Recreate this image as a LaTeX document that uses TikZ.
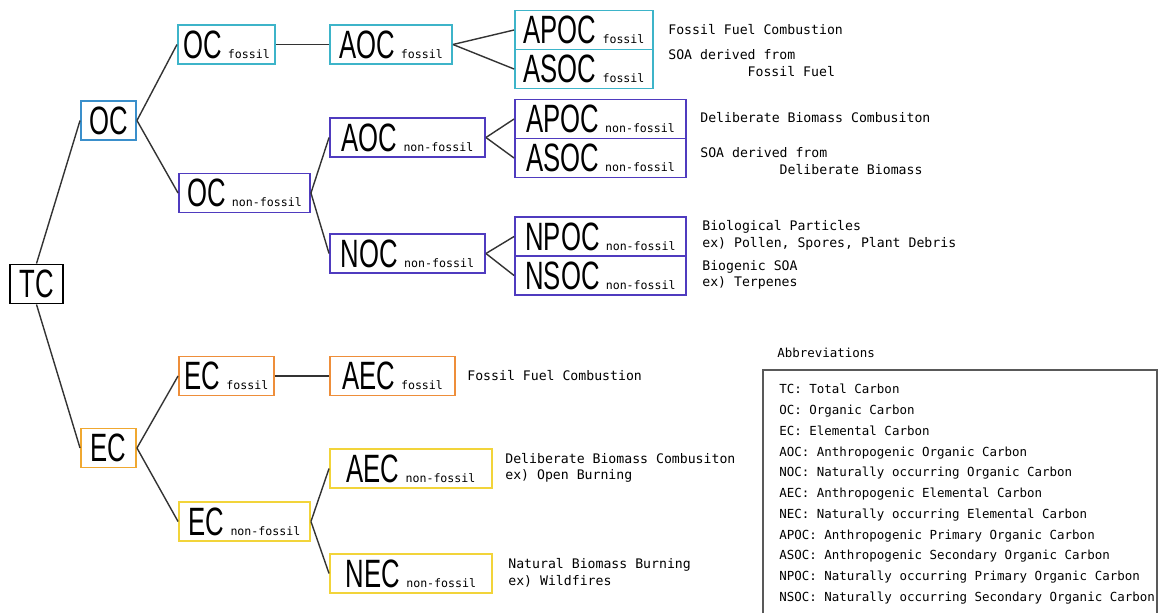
\documentclass[tikz,border=0pt]{standalone}
\usepackage{fontspec}
\setmainfont{Liberation Sans}
\newfontfamily\labfont[FakeStretch=0.65]{Liberation Sans}
\newfontfamily\monofont{DejaVu Sans Mono}
\usetikzlibrary{positioning}
\definecolor{ocblue}{HTML}{3A8FCB}
\definecolor{fosscyan}{HTML}{3DB4C9}
\definecolor{nfpurple}{HTML}{4F3BBF}
\definecolor{ecorange}{HTML}{F0A830}
\definecolor{fossorange}{HTML}{EE8E3A}
\definecolor{nfyellow}{HTML}{F2D43A}
\newcommand{\biglab}[1]{{\labfont\fontsize{22.5}{22.5}\selectfont #1}}
\newcommand{\lab}[2]{\biglab{#1}\hspace{3.5pt}{\monofont\fontsize{6.6}{7}\selectfont #2}}

\begin{document}
\begin{tikzpicture}[x=0.02cm,y=-0.02cm,
  cbox/.style={draw=#1, line width=1.1pt, fill=white, inner xsep=3pt, inner ysep=2pt,
    text height=15.5pt, text depth=0pt, minimum height=0.78cm},
  link/.style={draw=black!80, line width=0.8pt},
  desc/.style={font=\monofont\fontsize{7.5}{9.5}\selectfont, align=left, anchor=west, inner sep=0pt}]
  \useasboundingbox (0,0) rectangle (1159,613);
  % tree boxes
  \node[cbox=black, minimum width=1.06cm] (tc) at (36.5,284) {\biglab{TC}};
  \node[cbox=ocblue, minimum width=1.1cm] (oc) at (108.5,120.5) {\biglab{OC}};
  \node[cbox=ecorange, minimum width=1.1cm] (ec) at (108.5,448) {\biglab{EC}};
  \node[cbox=fosscyan, minimum width=1.9cm] (ocf) at (226.5,44.5) {\lab{OC}{fossil}};
  \node[cbox=nfpurple, minimum width=2.62cm] (ocn) at (244.5,193) {\lab{OC}{non-fossil}};
  \node[cbox=fosscyan, minimum width=2.44cm] (aocf) at (391,44.5) {\lab{AOC}{fossil}};
  \node[cbox=nfpurple, minimum width=3.1cm] (aocn) at (407.5,137.5) {\lab{AOC}{non-fossil}};
  \node[cbox=nfpurple, minimum width=3.1cm] (nocn) at (407.5,253.5) {\lab{NOC}{non-fossil}};
  \node[cbox=fosscyan, minimum width=2.76cm] (apocf) at (584,30) {\lab{APOC}{fossil}};
  \node[cbox=fosscyan, minimum width=2.76cm, below=-1.1pt of apocf] (asocf) {\lab{ASOC}{fossil}};
  \node[cbox=nfpurple, minimum width=3.42cm] (apocn) at (600.5,119) {\lab{APOC}{non-fossil}};
  \node[cbox=nfpurple, minimum width=3.42cm, below=-1.1pt of apocn] (asocn) {\lab{ASOC}{non-fossil}};
  \node[cbox=nfpurple, minimum width=3.42cm] (npocn) at (600.5,236.5) {\lab{NPOC}{non-fossil}};
  \node[cbox=nfpurple, minimum width=3.42cm, below=-1.1pt of npocn] (nsocn) {\lab{NSOC}{non-fossil}};
  \node[cbox=fossorange, minimum width=1.9cm] (ecf) at (226.5,376) {\lab{EC}{fossil}};
  \node[cbox=nfyellow, minimum width=2.62cm] (ecn) at (244.5,521.5) {\lab{EC}{non-fossil}};
  \node[cbox=fossorange, minimum width=2.5cm] (aecf) at (392.5,376) {\lab{AEC}{fossil}};
  \node[cbox=nfyellow, minimum width=3.24cm] (aecn) at (411,468.5) {\lab{AEC}{non-fossil}};
  \node[cbox=nfyellow, minimum width=3.24cm] (necn) at (411,573.5) {\lab{NEC}{non-fossil}};
  % connectors
  \draw[link] (tc.north) -- (oc.west);
  \draw[link] (tc.south) -- (ec.west);
  \draw[link] (oc.east) -- (ocf.west);
  \draw[link] (oc.east) -- (ocn.west);
  \draw[link] (ocf.east) -- (aocf.west);
  \draw[link] (aocf.east) -- (apocf.west);
  \draw[link] (aocf.east) -- (asocf.west);
  \draw[link] (ocn.east) -- (aocn.west);
  \draw[link] (ocn.east) -- (nocn.west);
  \draw[link] (aocn.east) -- (apocn.west);
  \draw[link] (aocn.east) -- (asocn.west);
  \draw[link] (nocn.east) -- (npocn.west);
  \draw[link] (nocn.east) -- (nsocn.west);
  \draw[link] (ec.east) -- (ecf.west);
  \draw[link] (ec.east) -- (ecn.west);
  \draw[link] (ecf.east) -- (aecf.west);
  \draw[link] (ecn.east) -- (aecn.west);
  \draw[link] (ecn.east) -- (necn.west);
  % sources
  \node[desc] (d1) at (668,30) {Fossil Fuel Combustion};
  \node[desc] (d2) at (668,63) {SOA derived from\\\phantom{0000000000}Fossil Fuel};
  \node[desc] (d3) at (700,118) {Deliberate Biomass Combusiton};
  \node[desc] (d4) at (700,161) {SOA derived from\\\phantom{0000000000}Deliberate Biomass};
  \node[desc] (d5) at (702,235) {Biological Particles\\ex) Pollen, Spores, Plant Debris};
  \node[desc] (d6) at (702,275) {Biogenic SOA\\ex) Terpenes};
  \node[desc] (d7) at (467,376) {Fossil Fuel Combustion};
  \node[desc] (d8) at (505,468) {Deliberate Biomass Combusiton\\ex) Open Burning};
  \node[desc] (d9) at (508,573) {Natural Biomass Burning\\ex) Wildfires};
  % abbreviations
  \node[desc, font=\monofont\fontsize{7.1}{9}\selectfont] (abbt) at (777,353) {Abbreviations};
  \draw[black!65, line width=0.6pt] (763,613) -- (763,370) -- (1157,370) -- (1157,613);
  \node[desc, anchor=north west, font=\monofont\fontsize{7.1}{11.8}\selectfont] (abbl) at (779,384) {%
    TC: Total Carbon\\
    OC: Organic Carbon\\
    EC: Elemental Carbon\\
    AOC: Anthropogenic Organic Carbon\\
    NOC: Naturally occurring Organic Carbon\\
    AEC: Anthropogenic Elemental Carbon\\
    NEC: Naturally occurring Elemental Carbon\\
    APOC: Anthropogenic Primary Organic Carbon\\
    ASOC: Anthropogenic Secondary Organic Carbon\\
    NPOC: Naturally occurring Primary Organic Carbon\\
    NSOC: Naturally occurring Secondary Organic Carbon};
\end{tikzpicture}
\end{document}
